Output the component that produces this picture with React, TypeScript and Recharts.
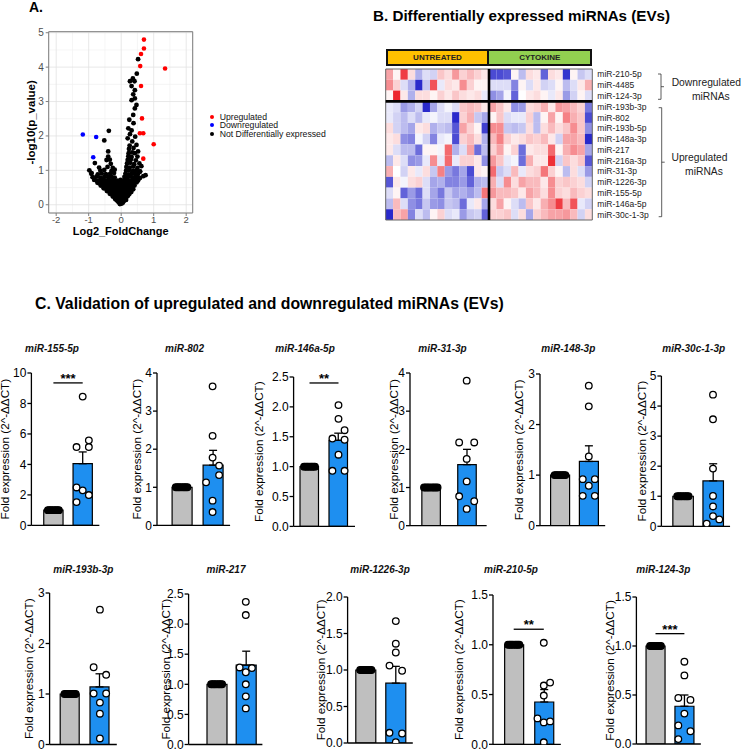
import React from 'react';
import {
  ScatterChart, Scatter, ComposedChart, Bar, Cell, ErrorBar, XAxis, YAxis,
  CartesianGrid, ReferenceArea, ReferenceLine, Legend,
} from 'recharts';

const FONT = '"Liberation Sans", Arial, Helvetica, sans-serif';

// ---------------- Panel A : volcano ----------------
const volcanoXTicks = [-2, -1, 0, 1, 2];
const volcanoYTicks = [0, 1, 2, 3, 4, 5];
const volcanoXMinor = [-1.5, -0.5, 0.5, 1.5];
const volcanoYMinor = [0.5, 1.5, 2.5, 3.5, 4.5];
const volcanoSeriesOrder = ['Upregulated', 'Downregulated', 'Not Differentially expressed'];

const upregulatedPoints: [number, number][] = [
  [0.70, 4.80], [0.70, 4.54], [0.61, 4.38], [0.585, 4.03], [1.35, 3.96], [0.61, 3.45],
  [0.64, 2.51], [0.575, 2.08], [0.68, 2.08], [1.0, 1.76], [0.68, 1.34],
];
const downregulatedPoints: [number, number][] = [[-1.18, 2.04], [-0.77, 1.97], [-0.86, 1.38]];
const notDifferentialPoints: [number, number][] = [
  [-0.04, 0.02], [0.01, 0.03], [0.05, 0.06], [-0.08, 0.07], [-0.02, 0.09], [0.08, 0.1], [-0.13, 0.12],
  [-0.18, 0.16], [-0.1, 0.15], [-0.03, 0.17], [0.04, 0.15], [0.11, 0.17], [0.15, 0.14],
  [-0.26, 0.24], [-0.19, 0.22], [-0.11, 0.23], [-0.04, 0.25], [0.03, 0.22], [0.1, 0.24], [0.17, 0.23], [0.21, 0.26],
  [-0.35, 0.32], [-0.27, 0.3], [-0.19, 0.31], [-0.11, 0.33], [-0.03, 0.3], [0.05, 0.32], [0.12, 0.3], [0.19, 0.33], [0.25, 0.31],
  [-0.44, 0.4], [-0.36, 0.38], [-0.28, 0.39], [-0.2, 0.41], [-0.12, 0.38], [-0.04, 0.4], [0.04, 0.39], [0.12, 0.41], [0.2, 0.38], [0.27, 0.4], [0.31, 0.37],
  [-0.54, 0.48], [-0.46, 0.46], [-0.38, 0.47], [-0.3, 0.49], [-0.22, 0.46], [-0.14, 0.48], [-0.06, 0.47], [0.02, 0.49], [0.1, 0.46], [0.18, 0.48], [0.26, 0.47], [0.33, 0.49], [0.37, 0.45],
  [-0.63, 0.56], [-0.55, 0.54], [-0.47, 0.55], [-0.39, 0.57], [-0.31, 0.54], [-0.23, 0.56], [-0.15, 0.55], [-0.07, 0.57], [0.01, 0.54], [0.09, 0.56], [0.17, 0.55], [0.25, 0.57], [0.33, 0.54], [0.41, 0.56],
  [-0.73, 0.64], [-0.65, 0.62], [-0.56, 0.63], [-0.48, 0.65], [-0.4, 0.62], [-0.32, 0.64], [-0.24, 0.63], [-0.16, 0.65], [-0.08, 0.62], [0.0, 0.64], [0.08, 0.63], [0.16, 0.65], [0.24, 0.62], [0.32, 0.64], [0.4, 0.63], [0.47, 0.65],
  [-0.83, 0.72], [-0.74, 0.7], [-0.65, 0.71], [-0.56, 0.73], [-0.47, 0.7], [-0.38, 0.72], [-0.3, 0.71], [-0.22, 0.73], [-0.12, 0.7], [-0.02, 0.72], [0.08, 0.71], [0.17, 0.73], [0.26, 0.7], [0.35, 0.72], [0.44, 0.71], [0.53, 0.73],
  [-0.88, 0.8], [-0.76, 0.82], [-0.64, 0.79], [-0.52, 0.81], [-0.4, 0.8], [-0.3, 0.82], [-0.2, 0.79], [0.1, 0.81], [0.2, 0.8], [0.3, 0.82], [0.4, 0.79], [0.5, 0.81], [0.58, 0.78],
  [-0.92, 0.9], [-0.72, 0.88], [-0.6, 0.91], [-0.47, 0.89], [-0.34, 0.9], [-0.22, 0.92], [0.13, 0.9], [0.23, 0.88], [0.33, 0.91], [0.43, 0.89], [0.52, 0.9],
  [-0.98, 1.0], [-0.64, 0.99], [-0.52, 1.01], [-0.3, 0.98], [-0.2, 1.02], [0.15, 0.99], [0.25, 1.01], [0.36, 0.98], [0.46, 1.0], [0.58, 0.96],
  [-0.68, 1.08], [-0.42, 1.1], [-0.26, 1.07], [0.16, 1.1], [0.26, 1.08], [0.37, 1.11], [0.5, 1.07],
  [-0.81, 1.21], [-0.32, 1.19], [0.18, 1.2], [0.28, 1.22], [0.4, 1.18], [0.56, 1.2],
  [-0.45, 1.3], [-0.35, 1.31], [0.2, 1.3], [0.3, 1.32], [0.45, 1.29],
  [-0.4, 1.4], [0.22, 1.41], [0.32, 1.39], [0.5, 1.4],
  [-0.4, 1.55], [0.23, 1.5], [0.34, 1.52], [0.42, 1.5], [0.52, 1.55],
  [0.24, 1.62], [0.38, 1.65], [0.26, 1.72], [0.47, 1.74], [0.34, 1.84], [0.2, 1.93], [0.43, 1.98], [0.27, 2.05],
  [-0.38, 2.15], [-0.52, 1.87], [-0.91, 0.92],
  [0.32, 2.16], [0.22, 2.22], [0.38, 2.37], [0.25, 2.47], [0.37, 2.61], [0.42, 2.8], [0.47, 2.9], [0.32, 3.04],
  [0.42, 3.09], [0.37, 3.21], [0.42, 3.33], [0.32, 3.45], [0.27, 3.59], [0.41, 3.59], [0.36, 3.67], [0.48, 3.81], [0.52, 4.23],
  [0.75, 0.86], [0.62, 1.12], [0.58, 0.97], [0.68, 0.83], [0.5, 0.68],
];

// ---------------- Panel B : heatmap ----------------
const heatmapRows = [
  'miR-210-5p', 'miR-4485', 'miR-124-3p', 'miR-193b-3p', 'miR-802', 'miR-193b-5p', 'miR-148a-3p',
  'miR-217', 'miR-216a-3p', 'miR-31-3p', 'miR-1226-3p', 'miR-155-5p', 'miR-146a-5p', 'miR-30c-1-3p',
];
const heatmapRowTicks = [0.5, 1.5, 2.5, 3.5, 4.5, 5.5, 6.5, 7.5, 8.5, 9.5, 10.5, 11.5, 12.5, 13.5];
const heatmapUntreated = [
  [0.8, 0.1, 1.7, 0.3, -0.7, -0.3, -0.4, 0.5, 0.3, 0.9, 0.4, 0.6, 0.4, 0.2],
  [1.0, 0.4, -0.3, -0.7, -1.9, -0.5, 1.5, -0.2, 0.3, 0.2, 1.0, 0.4, 0.1, 0.1],
  [0.1, 1.9, 0.2, -0.7, 0.3, 0.3, 0.1, 0.4, 0.2, 0.5, 0.3, 0.2, 0.3, -0.2],
  [-0.2, -0.3, -0.9, -0.7, -0.4, -1.9, -0.8, -0.3, -0.1, -0.3, 0.5, 0.6, 0.5, 0.2],
  [-0.2, -0.4, -0.6, -0.3, -0.6, -0.2, -0.1, -0.3, -0.3, -1.9, 0.4, 0.7, -0.5, -0.8],
  [0.3, -0.4, -0.6, -0.8, 0.2, 0.3, -0.7, -0.5, -0.6, -1.5, 0.8, 0.4, 0.1, -1.7],
  [0.2, 0.3, -1.0, -1.1, -0.1, -0.4, -1.1, -0.2, -0.1, -1.6, 0.4, 0.6, 0.3, -0.7],
  [0.2, -0.3, -0.6, -0.6, -1.3, 0.1, 0.1, -0.1, 1.3, -0.7, -0.3, 0.8, -1.3, -0.6],
  [-0.6, 0.2, -0.3, -1.0, -0.9, -0.2, 1.0, -0.2, 1.3, -0.2, 0.4, 0.4, 0.2, -1.0],
  [0.7, 0.0, -0.4, 0.2, -0.2, 0.3, -0.5, 1.1, -0.9, -1.2, -0.8, -1.6, 0.2, 0.1],
  [-1.5, 0.2, -0.1, 0.3, 0.4, -0.3, -0.8, -0.7, -1.1, -1.1, -0.9, -1.4, -0.7, -0.6],
  [-0.3, 0.1, -1.4, -0.9, -1.3, -0.3, -0.8, -1.2, -0.5, -0.8, -0.7, -0.9, -0.6, 1.2],
  [-0.6, 0.6, -0.3, -1.0, -1.2, -0.5, -0.9, -1.0, -0.5, -0.6, -1.3, -0.2, 0.2, -0.8],
  [-1.9, 0.6, 0.8, -1.1, -0.3, -0.6, 0.1, 0.4, -0.3, -0.2, -0.9, -0.5, -0.4, -1.4],
];
const heatmapCytokine = [
  [-1.6, -1.6, -1.5, 0.1, -0.6, 0.3, 0.2, -1.4, 0.3, 0.2, -1.8, 0.1, -0.5, -0.3],
  [-0.3, -0.3, -0.3, -1.1, 0.1, -0.3, 0.2, -0.4, -0.3, 0.1, -0.6, -0.3, 0.2, 0.7],
  [-1.0, -0.8, -0.1, -1.4, 0.0, 0.2, 0.3, 0.1, -0.2, 0.2, -0.9, -0.4, 0.1, -0.3],
  [0.8, 0.5, 0.2, -1.0, -0.9, 0.3, 0.4, 0.7, 0.2, 0.9, 0.8, 0.6, 0.4, -1.2],
  [0.1, 0.5, -0.3, -0.2, -0.2, 0.4, -0.6, 0.1, 0.8, 0.1, 1.1, 0.7, 0.5, -1.6],
  [1.0, 1.0, -0.5, -0.6, -0.5, 0.3, -0.6, 0.3, 0.6, 0.3, 0.5, 1.0, 0.5, -1.0],
  [0.6, 1.1, 0.4, 0.2, 0.3, 0.5, 0.4, 0.6, 0.2, -0.4, 0.8, 0.8, 0.6, -1.9],
  [0.4, 0.8, 0.1, 0.4, -1.3, 0.2, 0.3, 0.3, 1.3, 0.1, 0.7, 1.0, 0.8, -0.8],
  [0.9, 0.5, -0.2, -0.1, -1.3, 0.7, 0.2, 0.2, 1.8, -0.4, 0.5, 0.3, 0.5, -1.5],
  [1.3, -0.5, -0.3, 0.6, -0.2, 0.3, 0.4, 1.2, 0.4, 0.1, -0.6, 0.3, -0.3, -0.9],
  [0.7, -0.3, 1.0, 0.3, 0.8, 0.6, 0.6, 0.2, 1.0, 0.4, 0.5, 0.4, 0.3, -0.4],
  [0.9, 0.6, 0.6, 0.5, 0.2, 0.8, 0.6, 0.3, 1.0, 0.4, 0.3, 0.6, 0.4, 0.3],
  [0.3, 0.8, 0.1, -0.3, -0.6, 0.5, 0.2, 0.7, 1.0, 1.7, 0.6, 1.5, -0.2, -0.4],
  [0.4, 0.4, 0.5, -0.3, 0.3, -0.8, 0.4, 0.6, 0.8, 0.8, 0.9, 0.6, -0.4, 0.3],
];

// ---------------- Panel C : validation bar charts ----------------
const miRNAs = ['miR-155-5p', 'miR-802', 'miR-146a-5p', 'miR-31-3p', 'miR-148-3p', 'miR-30c-1-3p',
  'miR-193b-3p', 'miR-217', 'miR-1226-3p', 'miR-210-5p', 'miR-124-3p'];
const groups = ['Untreated', 'Cytokine'];
const untreatedMeans = [1, 1, 1, 1, 1, 1, 1, 1, 1, 1, 1];
const untreatedPoints = [1, 1, 1, 1, 1, 1, 1, 1];
const cytokineMeans = [4.05, 1.58, 1.44, 1.60, 1.27, 1.51, 1.14, 1.32, 0.82, 0.425, 0.385];
const cytokineSEM = [0.77, 0.39, 0.12, 0.40, 0.31, 0.57, 0.26, 0.23, 0.23, 0.125, 0.115];
const cytokinePoints = [
  [8.45, 5.58, 5.14, 5.14, 2.49, 2.30, 1.99, 1.53],
  [3.65, 2.35, 1.78, 1.57, 1.32, 1.13, 0.65, 0.35],
  [2.03, 1.80, 1.61, 1.47, 1.45, 1.20, 0.93, 0.93],
  [3.80, 2.18, 2.18, 1.75, 1.16, 0.77, 0.64, 0.44],
  [2.77, 2.36, 1.37, 0.92, 0.92, 0.79, 0.59, 0.59],
  [4.38, 3.56, 1.92, 1.01, 0.66, 0.34, 0.23, 0.09],
  [2.67, 1.53, 1.38, 1.01, 1.01, 0.83, 0.61, 0.12],
  [2.37, 2.15, 1.28, 1.27, 1.20, 1.00, 0.80, 0.60],
  [1.67, 1.36, 1.24, 1.06, 0.99, 0.14, 0.13, 0.01],
  [1.02, 0.59, 0.62, 0.49, 0.26, 0.22, 0.23, 0.02],
  [0.84, 0.70, 0.47, 0.45, 0.31, 0.19, 0.13, 0.05],
];
// column (left -1 / centre 0 / right +1) each dot sits in
const cytokineLanes = [
  [0, 1, -1, 1, -1, 0, 1, -1],
  [0, 0, 0, 1, 1, -1, 0, 0],
  [0, 0, 1, -1, 1, 0, -1, 1],
  [0, -1, 1, 0, 0, -1, 1, 0],
  [0, 0, 0, -1, 1, 0, -1, 1],
  [0, 0, 0, 0, 0, 0, 1, -1],
  [0, -1, 1, -1, 1, 0, 0, 0],
  [0, 0, -1, 1, 0, 0, 0, 0],
  [0, 0, 0, -1, 1, -1, 1, 0],
  [0, 0, 1, 0, -1, 0, 1, 0],
  [0, 0, -1, 1, 0, -1, 1, -1],
];
const untreatedLanes = [-0.9, -0.65, -0.4, -0.15, 0.15, 0.4, 0.65, 0.9];
const yTicks = [
  [0, 2, 4, 6, 8, 10], [0, 1, 2, 3, 4], [0, 0.5, 1, 1.5, 2, 2.5], [0, 1, 2, 3, 4], [0, 1, 2, 3],
  [0, 1, 2, 3, 4, 5], [0, 1, 2, 3], [0, 0.5, 1, 1.5, 2, 2.5], [0, 0.5, 1, 1.5, 2], [0, 0.5, 1, 1.5], [0, 0.5, 1, 1.5],
];
const significance = ['***', '', '**', '', '', '', '', '', '', '**', '***'];
const significanceLevel = [9.35, 0, 2.4, 0, 0, 0, 0, 0, 0, 1.156, 1.126];

// layout (pixel placement of each small chart)
const foldLayout = [
  { axisX: 31.7, labelX: 5.5, grayC: 53.7, blueC: 83, barW: 19.3, top: 373.3, bottom: 525.7, titleX: 52, titleY: 349 },
  { axisX: 156.7, labelX: 136.7, grayC: 181.3, blueC: 212.3, barW: 20, top: 373.3, bottom: 525.7, titleX: 184.5, titleY: 349 },
  { axisX: 293.3, labelX: 259, grayC: 309.2, blueC: 338.2, barW: 18.5, top: 377.3, bottom: 526.7, titleX: 305, titleY: 349 },
  { axisX: 410, labelX: 394, grayC: 430.8, blueC: 466.7, barW: 18.5, top: 373.3, bottom: 526, titleX: 442.5, titleY: 349 },
  { axisX: 540, labelX: 519, grayC: 560, blueC: 588.8, barW: 19, top: 374.3, bottom: 526, titleX: 568.3, titleY: 349 },
  { axisX: 661.7, labelX: 642, grayC: 683.2, blueC: 713.3, barW: 20.5, top: 375.7, bottom: 526, titleX: 693.7, titleY: 349 },
  { axisX: 50, labelX: 29.2, grayC: 70.5, blueC: 100.3, barW: 19, top: 592.5, bottom: 744, titleX: 83.3, titleY: 569.5 },
  { axisX: 188.3, labelX: 166, grayC: 216.3, blueC: 245.5, barW: 20, top: 593.5, bottom: 744, titleX: 226, titleY: 569.5 },
  { axisX: 347.3, labelX: 321, grayC: 365.5, blueC: 395.5, barW: 20, top: 596.7, bottom: 742.7, titleX: 380, titleY: 569.5 },
  { axisX: 493, labelX: 458.5, grayC: 513.7, blueC: 543.8, barW: 19, top: 594.7, bottom: 744, titleX: 511, titleY: 569.5 },
  { axisX: 636.7, labelX: 610, grayC: 655.8, blueC: 684.7, barW: 19, top: 597, bottom: 744, titleX: 663.3, titleY: 569.5 },
];
const LANE = 0.21;

const heatColor = (v: number) => {
  const t = Math.min(Math.abs(v) / 2, 1);
  const mix = (a: number, b: number) => Math.round(a + (b - a) * t);
  if (v >= 0) return `rgb(${mix(255, 236)},${mix(255, 26)},${mix(255, 34)})`;
  return `rgb(${mix(255, 30)},${mix(255, 30)},${mix(255, 200)})`;
};

const VolcanoLegend = (props: any) => {
  const items = [...(props.payload || [])].sort(
    (a: any, b: any) => volcanoSeriesOrder.indexOf(a.value) - volcanoSeriesOrder.indexOf(b.value));
  return (
    <div style={{ fontSize: 8.7, color: '#111', fontFamily: FONT }}>
      {items.map((it: any) => (
        <div key={it.value} style={{ display: 'flex', alignItems: 'center', height: 8.7, whiteSpace: 'nowrap' }}>
          <span style={{ display: 'inline-block', width: 4, height: 4, borderRadius: '50%', background: it.color, marginRight: 5.4 }} />
          <span>{it.value}</span>
        </div>
      ))}
    </div>
  );
};

const volcanoDot = (r: number) => (p: any) => <circle cx={p.cx} cy={p.cy} r={r} fill={p.fill} />;

function Volcano() {
  const toPts = (arr: [number, number][]) => arr.map(([x, y]) => ({ x, y }));
  return (
    <div style={{ position: 'absolute', left: 0, top: 0 }}>
      <ScatterChart width={380} height={240} margin={{ top: 31.7, right: 187.3, bottom: 2, left: 13.3 }}>
        <CartesianGrid xAxisId="mx" yAxisId="my" stroke="#f1f1f1" strokeWidth={0.7} />
        <CartesianGrid stroke="#e2e2e2" strokeWidth={0.8} />
        <XAxis type="number" dataKey="x" domain={[-2.23, 2.2]} ticks={volcanoXTicks} allowDataOverflow
          tick={{ fontSize: 9.5, fill: '#4d4d4d' }} tickSize={3} tickMargin={0} tickLine={{ stroke: '#7f7f7f' }}
          axisLine={false} height={25}
          label={{ value: 'Log2_FoldChange', position: 'insideBottom', offset: 3, fontSize: 11, fontWeight: 'bold', fill: '#000' }} />
        <XAxis xAxisId="mx" type="number" dataKey="x" domain={[-2.23, 2.2]} ticks={volcanoXMinor} hide allowDataOverflow />
        <YAxis type="number" dataKey="y" domain={[-0.24, 5.03]} ticks={volcanoYTicks} allowDataOverflow interval={0}
          tick={{ fontSize: 10, fill: '#4d4d4d' }} tickSize={3} tickMargin={2} tickLine={{ stroke: '#7f7f7f' }}
          axisLine={false} width={35.4}
          label={{ value: '-log10(p_value)', angle: -90, position: 'center', fontSize: 11.5, fontWeight: 'bold', fill: '#000' }} />
        <YAxis yAxisId="my" type="number" dataKey="y" domain={[-0.24, 5.03]} ticks={volcanoYMinor} hide allowDataOverflow />
        <ReferenceArea x1={-2.23} x2={2.2} y1={-0.24} y2={5.03} fill="none" stroke="#7f7f7f" strokeWidth={1} ifOverflow="visible" />
        <Scatter name="Not Differentially expressed" data={toPts(notDifferentialPoints)} fill="#000000"
          shape={volcanoDot(2.4)} isAnimationActive={false} />
        <Scatter name="Downregulated" data={toPts(downregulatedPoints)} fill="#0000ff"
          shape={volcanoDot(2.3)} isAnimationActive={false} />
        <Scatter name="Upregulated" data={toPts(upregulatedPoints)} fill="#ff0000"
          shape={volcanoDot(2.3)} isAnimationActive={false} />
        <Legend layout="vertical" align="center" verticalAlign="middle" content={VolcanoLegend}
          wrapperStyle={{ left: 210.3, top: 112.3, width: 160, height: 27 }} />
      </ScatterChart>
    </div>
  );
}

function Heatmap() {
  const cells: any[] = [];
  heatmapRows.forEach((_, r) => {
    heatmapUntreated[r].forEach((v, c) => cells.push({ x1: c, y1: r, v }));
    heatmapCytokine[r].forEach((v, c) => cells.push({ x1: 14 + c, y1: r, v }));
  });
  const centers = heatmapRowTicks.map((y) => ({ x: 0.5, y }));
  return (
    <div style={{ position: 'absolute', left: 380, top: 60 }}>
      <ScatterChart width={300} height={170} margin={{ top: 9, right: 17.7, bottom: 10, left: 5.7 }}>
        <XAxis type="number" dataKey="x" domain={[0, 28]} hide allowDataOverflow />
        <YAxis type="number" dataKey="y" domain={[0, 14]} reversed orientation="right" ticks={heatmapRowTicks}
          interval={0} tickFormatter={(v: number) => heatmapRows[Math.floor(v)]} tickSize={0} tickMargin={5}
          axisLine={false} tickLine={false} width={70} tick={{ fontSize: 8.5, fill: '#222' }} allowDataOverflow />
        {cells.map((c, i) => (
          <ReferenceArea key={i} x1={c.x1} x2={c.x1 + 1} y1={c.y1} y2={c.y1 + 1} fill={heatColor(c.v)}
            fillOpacity={1} stroke="none" ifOverflow="visible" />
        ))}
        <ReferenceArea x1={0} x2={28} y1={0} y2={14} fill="none" stroke="#666" strokeWidth={1} ifOverflow="visible" />
        <ReferenceLine x={14} stroke="#000" strokeWidth={2.6} ifOverflow="visible" />
        <ReferenceLine y={3} stroke="#000" strokeWidth={2.6} ifOverflow="visible" />
        <Scatter data={centers} shape={() => <g />} isAnimationActive={false} />
      </ScatterChart>
    </div>
  );
}

const whiteDot = (p: any) => <circle cx={p.cx} cy={p.cy} r={3.3} fill="#fff" stroke="#000" strokeWidth={1.3} />;
const blackDot = (p: any) => <circle cx={p.cx} cy={p.cy} r={3.3} fill="#000" stroke="#000" strokeWidth={1.3} />;

function FoldChart({ i }: { i: number }) {
  const L = foldLayout[i];
  const plotH = L.bottom - L.top;
  const wY = 2 * (L.axisX - L.labelX);
  const s = L.blueC - L.grayC;
  const rangeStart = L.grayC - s / 2;
  const rangeEnd = L.blueC + s / 2;
  const plotRight = rangeEnd + 2;
  const padL = rangeStart - L.axisX;
  const padR = plotRight - rangeEnd;
  const mTop = 14;
  const xH = 3;
  const mBottom = Math.max(2, Math.min(8, 750.5 - L.bottom - xH));
  const width = wY + (plotRight - L.axisX) + 4;
  const height = mTop + plotH + xH + mBottom;
  const left = L.axisX - wY;
  const top = L.top - mTop;
  const ticks = yTicks[i];
  const max = ticks[ticks.length - 1];
  const decimals = ticks[1] < 1;
  const barData = [
    { group: groups[0], value: untreatedMeans[i], err: null },
    { group: groups[1], value: cytokineMeans[i], err: [0, cytokineSEM[i]] },
  ];
  const ctrl = untreatedPoints.map((v, k) => ({ x: untreatedLanes[k] * LANE, y: v }));
  const pts = cytokinePoints[i].map((v, k) => ({ x: 1 + cytokineLanes[i][k] * LANE, y: v }));
  const sig = significance[i];
  const sigY = significanceLevel[i];
  return (
    <>
      <div style={{
        position: 'absolute', left: L.titleX, top: L.titleY - 6, transform: 'translateX(-50%)',
        fontSize: 10, lineHeight: '12px', fontWeight: 'bold', fontStyle: 'italic', whiteSpace: 'nowrap', color: '#111',
      }}>{miRNAs[i]}</div>
      <div style={{ position: 'absolute', left, top }}>
        <ComposedChart width={width} height={height} data={barData} margin={{ top: mTop, right: 4, bottom: mBottom, left: 0 }}
          style={{ overflow: 'visible' }}>
          <XAxis xAxisId="cat" dataKey="group" type="category" tick={false} tickLine={false}
            axisLine={{ stroke: '#000', strokeWidth: 1.3 }} height={xH} padding={{ left: padL, right: padR }} />
          <XAxis xAxisId="pts" type="number" dataKey="x" domain={[-0.5, 1.5]} hide allowDataOverflow
            padding={{ left: padL, right: padR }} />
          <YAxis type="number" domain={[0, max]} ticks={ticks} interval={0} width={wY} allowDataOverflow
            tickFormatter={(v: number) => (decimals ? v.toFixed(1) : String(v))}
            tick={{ fontSize: 12, fill: '#000' }} tickSize={4} tickMargin={1}
            tickLine={{ stroke: '#000', strokeWidth: 1.3 }} axisLine={{ stroke: '#000', strokeWidth: 1.3 }}
            label={{ value: 'Fold expression (2^-ΔΔCT)', angle: -90, position: 'center', fontSize: 11.7, fill: '#000' }} />
          <Bar xAxisId="cat" dataKey="value" barSize={L.barW} stroke="#000" strokeWidth={1.2} isAnimationActive={false}>
            <Cell fill="#bfbfbf" />
            <Cell fill="#1e8ff0" />
            <ErrorBar dataKey="err" width={4} stroke="#000" strokeWidth={1.3} direction="y" />
          </Bar>
          <Scatter xAxisId="pts" data={ctrl} dataKey="y" shape={blackDot} isAnimationActive={false} />
          <Scatter xAxisId="pts" data={pts} dataKey="y" shape={whiteDot} isAnimationActive={false} />
          {sig ? (
            <ReferenceLine xAxisId="pts" segment={[{ x: 0, y: sigY }, { x: 1, y: sigY }]} stroke="#000" strokeWidth={1.3}
              ifOverflow="visible"
              label={{ value: sig, position: 'top', offset: 0, fontSize: 13, fontWeight: 'bold', fill: '#000' }} />
          ) : null}
        </ComposedChart>
      </div>
    </>
  );
}

const textAbs = (left: number, top: number, extra: any = {}) => ({
  position: 'absolute' as const, left, top, whiteSpace: 'nowrap' as const, ...extra,
});

export default function App() {
  return (
    <div style={{ position: 'absolute', left: 0, top: 0, width: 749, height: 751, background: '#fff', fontFamily: FONT, color: '#000', overflow: 'hidden' }}>
      <div style={textAbs(29, 0, { fontSize: 14, lineHeight: '14px', fontWeight: 'bold' })}>A.</div>
      <Volcano />

      <div style={textAbs(373, 7.5, { fontSize: 15.2, lineHeight: '16px', fontWeight: 'bold' })}>B. Differentially expressed miRNAs (EVs)</div>
      <div style={{
        position: 'absolute', left: 385.7, top: 49.3, width: 103.6, height: 16.4, boxSizing: 'border-box',
        background: '#ffc000', border: '2px solid #111', display: 'flex', alignItems: 'center', justifyContent: 'center',
        fontSize: 8, fontWeight: 'bold', color: '#222',
      }}>UNTREATED</div>
      <div style={{
        position: 'absolute', left: 487.3, top: 49.3, width: 105, height: 16.4, boxSizing: 'border-box',
        background: '#92d050', border: '2px solid #111', display: 'flex', alignItems: 'center', justifyContent: 'center',
        fontSize: 8, fontWeight: 'bold', color: '#222',
      }}>CYTOKINE</div>
      <Heatmap />
      <svg style={{ position: 'absolute', left: 650, top: 65 }} width={20} height={160}>
        <path d="M8 9 L11 9 L11 34.3 L8 34.3 M11 21.7 L14 21.7" fill="none" stroke="#333" strokeWidth={0.8} />
        <path d="M8.7 42.7 L11.7 42.7 L11.7 151.7 L8.7 151.7 M11.7 97.2 L14.7 97.2" fill="none" stroke="#333" strokeWidth={0.8} />
      </svg>
      {[
        ['Downregulated', 706.3, 83.3], ['miRNAs', 710.8, 96.7], ['Upregulated', 699.5, 158.3], ['miRNAs', 704, 171.7],
      ].map(([t, x, y]: any, k) => (
        <div key={k} style={textAbs(x, y - 6, { transform: 'translateX(-50%)', fontSize: 10.3, lineHeight: '12px', color: '#222' })}>{t}</div>
      ))}

      <div style={textAbs(35, 296, { fontSize: 15.8, lineHeight: '16px', fontWeight: 'bold' })}>C. Validation of upregulated and downregulated miRNAs (EVs)</div>
      {miRNAs.map((_, i) => <FoldChart key={i} i={i} />)}
    </div>
  );
}
